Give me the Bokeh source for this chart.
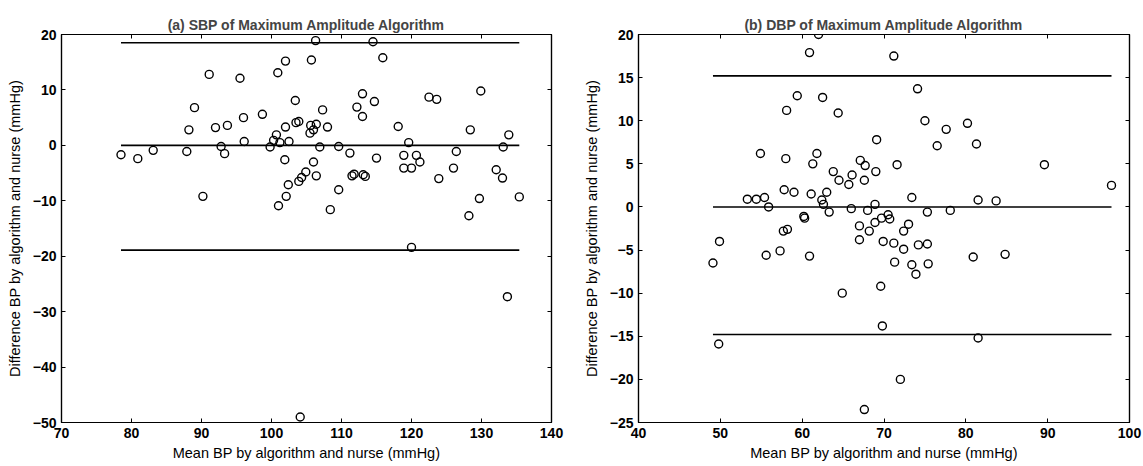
from bokeh.plotting import figure
from bokeh.layouts import row
from bokeh.models import FixedTicker, LinearAxis, Range1d
from bokeh.embed import file_html
from bokeh.resources import INLINE

# ---------------- data: (a) SBP ----------------
sbp_mean = [78.5, 80.9, 83.1, 87.9, 88.2, 89.0, 91.1, 90.2, 92.0, 92.8, 93.3, 93.7,
            95.5, 96.0, 96.1, 98.7, 99.8, 100.3, 100.7, 100.9, 101.0, 101.2, 101.9,
            102.0, 102.0, 102.1, 102.4, 102.5, 103.4, 103.5, 103.9, 103.9, 104.3,
            104.9, 105.7, 106.3, 107.3, 105.6, 106.4, 105.5, 106.0, 108.0, 106.9,
            106.0, 106.4, 108.4, 109.6, 109.6, 111.2, 111.5, 111.8, 113.1, 113.4,
            112.2, 113.0, 113.0, 114.7, 114.5, 115.9, 115.0, 118.1, 118.9, 119.6,
            120.7, 118.9, 120.0, 121.2, 122.5, 123.6, 123.9, 126.0, 126.4, 128.4,
            129.9, 128.2, 129.7, 132.1, 133.0, 133.1, 133.9, 135.4, 104.1, 120.0,
            133.7]
sbp_diff = [-1.7, -2.4, -0.9, -1.1, 2.8, 6.8, 12.8, -9.2, 3.2, -0.2, -1.5, 3.6,
            12.1, 5.0, 0.7, 5.6, -0.3, 0.9, 1.9, 13.1, -10.9, 0.5, -2.6,
            15.2, 3.3, -9.2, -7.1, 0.7, 8.1, 4.1, 4.3, -6.5, -5.8,
            -4.8, 15.4, 18.9, 6.4, 3.6, 3.8, 2.2, 2.8, 3.3, -0.3,
            -3.0, -5.5, -11.6, -8.0, -0.2, -1.4, -5.5, -5.2, -5.3, -5.6,
            6.9, 9.3, 5.2, 7.9, 18.7, 15.8, -2.3, 3.4, -1.8, 0.5,
            -1.8, -4.1, -4.1, -3.0, 8.7, 8.3, -6.0, -4.1, -1.1, 2.8,
            9.8, -12.7, -9.6, -4.4, -5.9, -0.3, 1.9, -9.3, -49.0, -18.4,
            -27.3]
sbp_limits = [18.5, 0.0, -18.9]   # upper LoA, mean, lower LoA

# ---------------- data: (b) DBP ----------------
dbp_mean = [49.1, 49.9, 49.8, 53.3, 54.4, 55.4, 55.9, 54.9, 55.6, 57.3, 57.7, 58.2,
            57.8, 58.1, 58.0, 59.0, 59.4, 60.2, 60.3, 60.9, 60.9, 61.1, 61.3, 61.8,
            62.0, 62.4, 62.5, 62.6, 63.0, 63.3, 63.8, 64.4, 64.5, 64.9, 65.7, 66.0,
            66.1, 67.0, 67.0, 67.1, 67.6, 67.7, 67.6, 68.0, 68.2, 68.9, 68.9, 69.0,
            69.1, 69.9, 69.6, 69.8, 69.7, 70.5, 70.7, 71.2, 71.2, 71.3, 71.6, 72.0,
            72.4, 72.4, 73.0, 73.4, 73.4, 73.9, 74.1, 74.2, 75.0, 75.3, 75.3, 75.4,
            76.5, 77.6, 78.1, 80.2, 80.9, 81.3, 81.5, 81.5, 83.7, 84.8, 89.6, 97.8]
dbp_diff = [-6.5, -4.0, -15.9, 0.9, 0.9, 1.1, 0.0, 6.2, -5.6, -5.1, -2.8, -2.6,
            2.0, 11.2, 5.6, 1.7, 12.9, -1.1, -1.3, -5.7, 17.9, 1.5, 5.0, 6.2,
            20.0, 0.8, 12.7, 0.3, 1.7, -0.6, 4.1, 10.9, 3.1, -10.0, 2.6, -0.2,
            3.7, -2.2, -3.8, 5.4, 3.1, 4.8, -23.5, -0.4, -2.8, 0.3, -1.8, 4.1,
            7.8, -4.0, -9.2, -13.8, -1.3, -0.9, -1.4, 17.5, -4.2, -6.4, 4.9, -20.0,
            -2.8, -4.9, -2.0, 1.1, -6.7, -7.8, 13.7, -4.4, 10.0, -0.6, -4.3, -6.6,
            7.1, 9.0, -0.4, 9.7, -5.8, 7.3, 0.8, -15.2, 0.7, -5.5, 4.9, 2.5]
dbp_limits = [15.2, 0.0, -14.8]

FONT = "Liberation Sans"


def style_axis(ax, labels=True):
    ax.axis_line_color = "black"
    ax.axis_line_width = 1.2
    ax.major_tick_in = 4
    ax.major_tick_out = 0
    ax.major_tick_line_color = "black"
    ax.minor_tick_line_color = None
    ax.major_label_text_font = FONT
    ax.major_label_text_font_style = "bold"
    ax.axis_label_text_font = FONT
    ax.axis_label_text_font_style = "normal"
    ax.axis_label_text_font_size = "14.5px"
    ax.axis_label_text_color = "black"
    if labels:
        ax.major_label_text_color = "black"
        ax.major_label_text_font_size = "14px"
        ax.major_label_standoff = 5
    else:
        ax.major_label_text_color = None
        ax.major_label_text_font_size = "1px"
        ax.major_label_standoff = 0


def make_panel(title, xs, ys, limits, xr, yr, xticks, yticks, width,
               bl, br):
    p = figure(width=width, height=466, output_backend="svg",
               toolbar_location=None, x_range=Range1d(*xr), y_range=Range1d(*yr),
               min_border_left=bl, min_border_right=br,
               min_border_top=34, min_border_bottom=44)
    p.title.text = title
    p.title.align = "center"
    p.title.text_font = FONT
    p.title.text_font_size = "14px"
    p.title.text_font_style = "bold"
    p.title.standoff = 4
    p.xgrid.visible = False
    p.ygrid.visible = False
    p.outline_line_color = "black"
    p.outline_line_width = 1.2
    p.background_fill_color = "white"
    p.border_fill_color = "white"

    p.xaxis.ticker = FixedTicker(ticks=xticks)
    p.yaxis.ticker = FixedTicker(ticks=yticks)
    p.xaxis.axis_label = "Mean BP by algorithm and nurse (mmHg)"
    p.yaxis.axis_label = "Difference BP by algorithm and nurse (mmHg)"
    p.xaxis.axis_label_standoff = 4
    p.yaxis.axis_label_standoff = 7
    style_axis(p.xaxis[0])
    style_axis(p.yaxis[0])

    top = LinearAxis(ticker=FixedTicker(ticks=xticks))
    right = LinearAxis(ticker=FixedTicker(ticks=yticks))
    style_axis(top, labels=False)
    style_axis(right, labels=False)
    p.add_layout(top, "above")
    p.add_layout(right, "right")

    x0, x1 = min(xs), max(xs)
    for lv in limits:
        p.line([x0, x1], [lv, lv], line_color="black", line_width=1.6)

    p.scatter(xs, ys, marker="circle", size=8, fill_color=None,
              line_color="black", line_width=1.4)
    return p


p1 = make_panel("(a) SBP of Maximum Amplitude Algorithm", sbp_mean, sbp_diff,
                sbp_limits, (70, 140), (-50, 20),
                list(range(70, 141, 10)), list(range(-50, 21, 10)),
                580, 61, 29)
p2 = make_panel("(b) DBP of Maximum Amplitude Algorithm", dbp_mean, dbp_diff,
                dbp_limits, (40, 100), (-25, 20),
                list(range(40, 101, 10)), list(range(-25, 21, 5)),
                563, 57, 14)

layout = row(p1, p2, spacing=0)
open("out.html", "w").write(file_html(layout, INLINE))
